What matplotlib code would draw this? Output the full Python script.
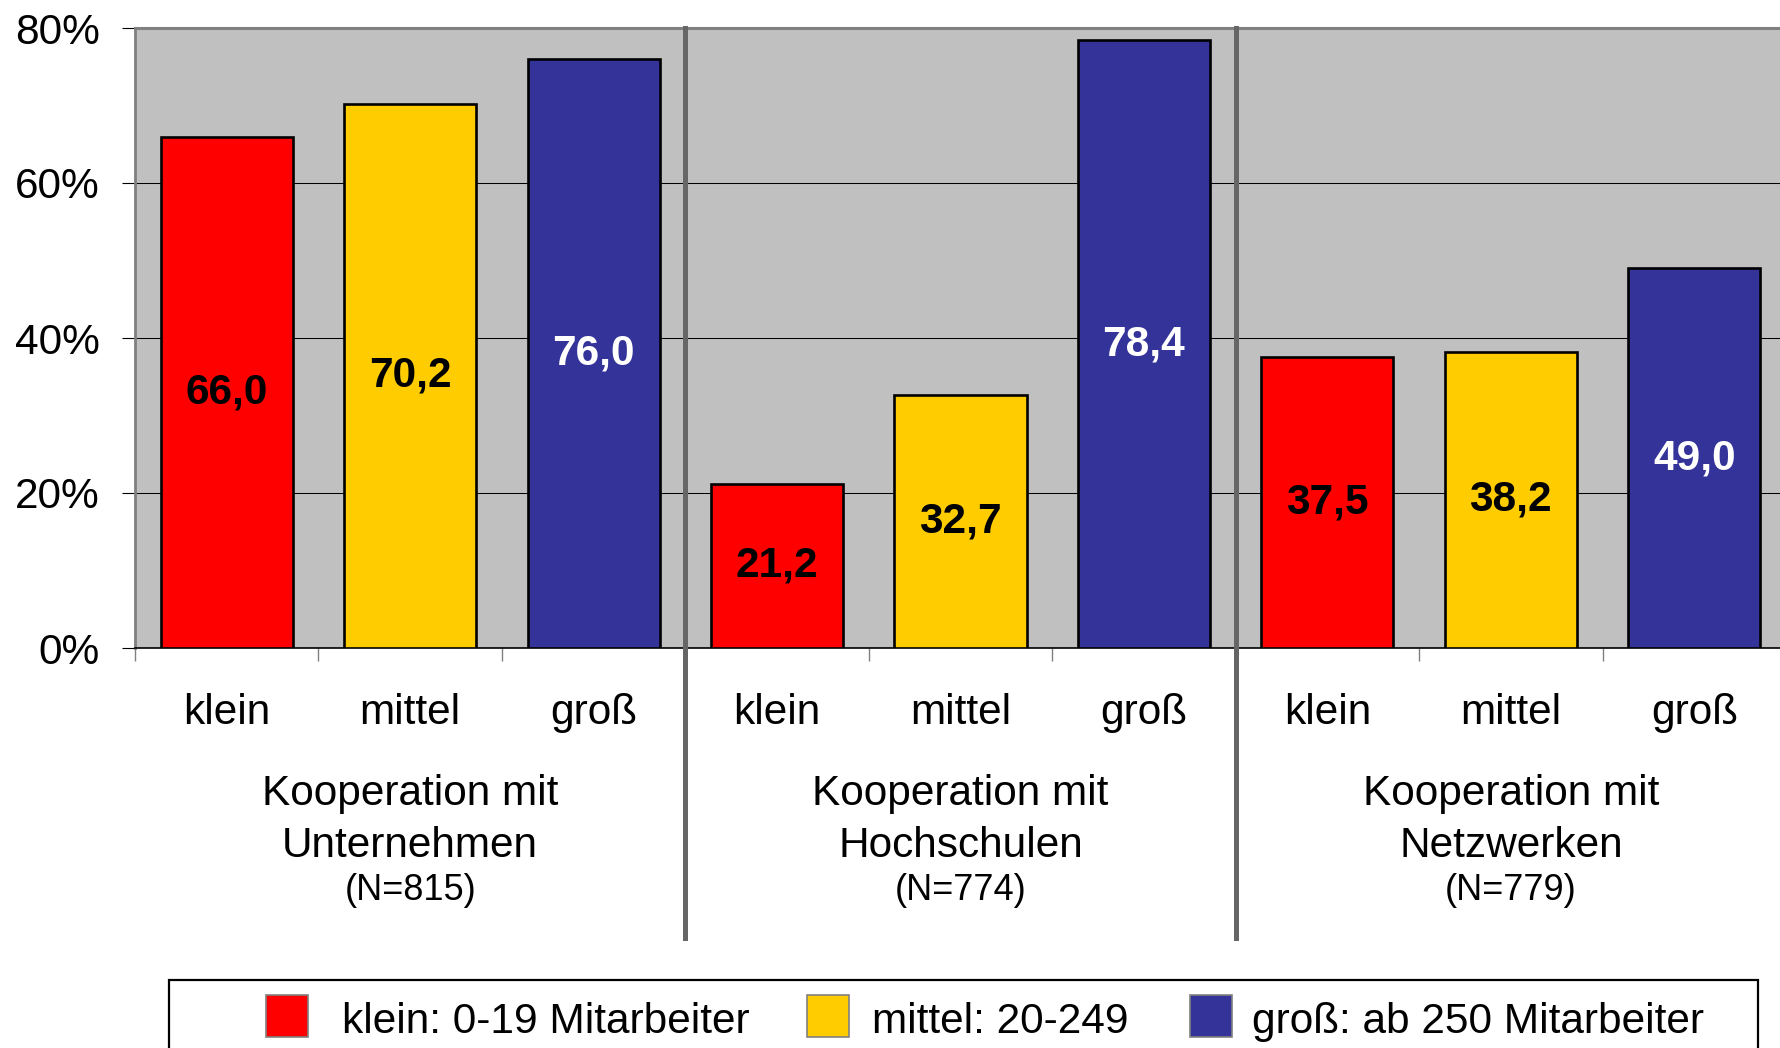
import matplotlib
matplotlib.use("Agg")
import matplotlib.pyplot as plt
from matplotlib import transforms
from matplotlib.patches import Rectangle

plt.rcParams['font.family'] = ['Liberation Sans', 'DejaVu Sans']

# data
groups = [["Kooperation mit", "Unternehmen"],
          ["Kooperation mit", "Hochschulen"],
          ["Kooperation mit", "Netzwerken"]]
group_n = ["(N=815)", "(N=774)", "(N=779)"]
sizes = ["klein", "mittel", "groß"]
klein = [66.0, 21.2, 37.5]
mittel = [70.2, 32.7, 38.2]
gross = [76.0, 78.4, 49.0]
legend_labels = ["klein: 0-19 Mitarbeiter", "mittel: 20-249", "groß: ab 250 Mitarbeiter"]
yticks = [0, 20, 40, 60, 80]

colors = ["#FF0000", "#FFCC00", "#333399"]
label_colors = ["black", "black", "white"]

W, H = 1780, 1048
fig = plt.figure(figsize=(W / 100, H / 100), dpi=100)
ax = fig.add_axes([135 / W, 1 - 648 / H, 1651 / W, 620 / H])
ax.set_facecolor("#C0C0C0")
ax.set_xlim(0, 9)
ax.set_ylim(0, 80)

ax.set_yticks(yticks)
ax.set_yticklabels([f"{t}%" for t in yticks], fontsize=30.5)
ax.tick_params(axis="y", length=9.4, width=0.8, color="black", pad=16)
ax.set_xticks(range(10))
ax.set_xticklabels([])
ax.tick_params(axis="x", length=9, width=1.0, color="#808080")

ax.yaxis.grid(True, color="black", lw=0.75)
ax.set_axisbelow(True)

ax.spines["top"].set_color("#808080")
ax.spines["top"].set_linewidth(2.2)
ax.spines["left"].set_color("#808080")
ax.spines["left"].set_linewidth(2.0)
ax.spines["bottom"].set_color("black")
ax.spines["bottom"].set_linewidth(1.2)
ax.spines["right"].set_visible(False)

trans = transforms.blended_transform_factory(ax.transData, fig.transFigure)

series = [klein, mittel, gross]
for s, vals in enumerate(series):
    for g, v in enumerate(vals):
        x = g * 3 + s + 0.5
        ax.bar(x, v, width=0.72, color=colors[s], edgecolor="black",
               linewidth=1.9, zorder=3)
        ax.text(x, v / 2, f"{v:.1f}".replace(".", ","), ha="center", va="center",
                fontsize=30.5, fontweight="bold", color=label_colors[s], zorder=4)
        ax.text(x, 1 - 724 / H, sizes[s], ha="center", va="baseline",
                fontsize=30.5, transform=trans)

for g in range(3):
    xc = g * 3 + 1.5
    ax.text(xc, 1 - 805 / H, groups[g][0], ha="center", va="baseline",
            fontsize=30.5, transform=trans)
    ax.text(xc, 1 - 857 / H, groups[g][1], ha="center", va="baseline",
            fontsize=30.5, transform=trans)
    ax.text(xc, 1 - 900 / H, group_n[g], ha="center", va="baseline",
            fontsize=26, transform=trans)

# group separators
for xs in [3, 6]:
    ax.plot([xs, xs], [1 - 28 / H, 1 - 938 / H], transform=trans,
            color="#666666", lw=3.6, clip_on=False, zorder=5)

# legend box (cut off at the bottom)
fig.patches.append(Rectangle((169 / W, -0.05), (1758 - 169) / W, 1 - 980 / H + 0.05,
                             transform=fig.transFigure, facecolor="white",
                             edgecolor="black", lw=1.6))
sq_x = [266, 807, 1190]
txt_x = [342, 872, 1252]
for i, lab in enumerate(legend_labels):
    fig.patches.append(Rectangle((sq_x[i] / W, 1 - 1037 / H), 42 / W, 42 / H,
                                 transform=fig.transFigure, facecolor=colors[i],
                                 edgecolor="#808080", lw=1.2))
    fig.text(txt_x[i] / W, 1 - 1033 / H, lab, ha="left", va="baseline", fontsize=30.5)

fig.savefig("out.png", dpi=100)
